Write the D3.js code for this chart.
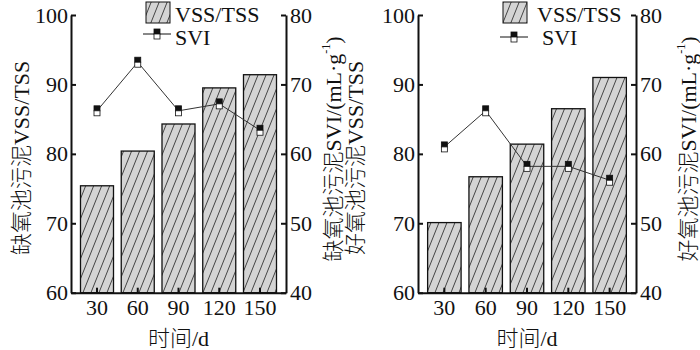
<!DOCTYPE html>
<html>
<head>
<meta charset="utf-8">
<script src="https://cdn.jsdelivr.net/npm/d3@7"></script>
<style>
  body { margin: 0; background: #fff; }
  svg { font-family: "Liberation Serif", "Noto Sans CJK SC", serif; }
  .title { font-weight: 300; }
</style>
</head>
<body>
<div id="chart"></div>
<script>
// data
const days = ['30', '60', '90', '120', '150']
const anoxicVssTss = [75.4, 80.4, 84.3, 89.5, 91.4]
const anoxicSvi = [66.2, 73.2, 66.2, 67.2, 63.4]
const oxicVssTss = [70.1, 76.7, 81.4, 86.5, 91.0]
const oxicSvi = [61.0, 66.2, 58.2, 58.2, 56.2]
const leftTicks = [60, 70, 80, 90, 100]
const rightTicks = [40, 50, 60, 70, 80]

const width = 700
const height = 350
const yTop = 15
const yBottom = 292.7
const fontSize = 22

const svg = d3.select('#chart').append('svg')
  .attr('width', width)
  .attr('height', height)

// hatch pattern for bars
const defs = svg.append('defs')
const pat = defs.append('pattern')
  .attr('id', 'hatch')
  .attr('patternUnits', 'userSpaceOnUse')
  .attr('width', 8)
  .attr('height', 20)
pat.append('rect')
  .attr('width', 8).attr('height', 20)
  .attr('fill', '#d4d4d4')
pat.append('path')
  .attr('d', 'M-1,22.5 L9,-2.5 M-9,22.5 L1,-2.5 M7,22.5 L17,-2.5')
  .attr('stroke', '#333')
  .attr('stroke-width', 0.9)

const marker = (g, cx, cy) => {
  g.append('rect')
    .attr('x', cx - 3).attr('y', cy - 5)
    .attr('width', 6).attr('height', 5)
    .attr('fill', '#111').attr('stroke', '#111').attr('stroke-width', 0.8)
  g.append('rect')
    .attr('x', cx - 3).attr('y', cy)
    .attr('width', 6).attr('height', 5)
    .attr('fill', '#fff').attr('stroke', '#111').attr('stroke-width', 0.8)
}

const drawPanel = ({ x0, x1, bars, svi, leftTitle, rightTitle, leftTitleX, rightTitleX, legend }) => {
  const g = svg.append('g')

  const x = d3.scaleBand()
    .domain(days)
    .range([x0, x1])
    .paddingInner(0.19)
    .paddingOuter(0.233)

  const y = d3.scaleLinear()
    .domain([60, 100])
    .range([yBottom, yTop])

  const y2 = d3.scaleLinear()
    .domain([40, 80])
    .range([yBottom, yTop])

  g.append('g')
    .selectAll('rect')
    .data(bars)
    .join('rect')
    .attr('x', (d, i) => x(days[i]))
    .attr('y', d => y(d))
    .attr('width', x.bandwidth())
    .attr('height', d => y(60) - y(d))
    .attr('fill', 'url(#hatch)')
    .attr('stroke', '#111')
    .attr('stroke-width', 1.3)

  const line = d3.line()
    .x((d, i) => x(days[i]) + x.bandwidth() / 2)
    .y(d => y2(d))

  g.append('path')
    .datum(svi)
    .attr('fill', 'none')
    .attr('stroke', '#333')
    .attr('stroke-width', 1)
    .attr('d', line)

  const mg = g.append('g')
  svi.forEach((d, i) => marker(mg, x(days[i]) + x.bandwidth() / 2, y2(d)))

  const styleAxis = a => {
    a.select('.domain').attr('stroke', '#111').attr('stroke-width', 2)
    a.selectAll('.tick line').attr('stroke', '#111').attr('stroke-width', 2)
    a.selectAll('.tick text')
      .attr('fill', '#111')
      .style('font-size', fontSize + 'px')
      .style('font-family', '"Liberation Serif", serif')
  }

  g.append('g')
    .attr('transform', `translate(${x0},0)`)
    .call(d3.axisLeft(y).tickValues(leftTicks).tickSizeInner(-5).tickSizeOuter(0).tickPadding(3))
    .call(styleAxis)

  g.append('g')
    .attr('transform', `translate(${x1},0)`)
    .call(d3.axisRight(y2).tickValues(rightTicks).tickSizeInner(-5).tickSizeOuter(0).tickPadding(4))
    .call(styleAxis)

  g.append('g')
    .attr('transform', `translate(0,${yBottom})`)
    .call(d3.axisBottom(x).tickSizeInner(-5).tickSizeOuter(0).tickPadding(7))
    .call(styleAxis)

  // axis titles
  g.append('text')
    .attr('class', 'title')
    .attr('transform', `translate(${leftTitleX},${(yTop + yBottom) / 2 + 4}) rotate(-90)`)
    .attr('text-anchor', 'middle')
    .attr('dominant-baseline', 'central')
    .style('font-size', fontSize + 'px')
    .attr('fill', '#111')
    .text(leftTitle)

  const rt = g.append('text')
    .attr('class', 'title')
    .attr('transform', `translate(${rightTitleX},${(yTop + yBottom) / 2 - 5}) rotate(-90)`)
    .attr('text-anchor', 'middle')
    .attr('dominant-baseline', 'central')
    .style('font-size', fontSize + 'px')
    .attr('fill', '#111')
  rt.append('tspan').text(rightTitle)
  rt.append('tspan').attr('dy', -7).style('font-size', '12px').text('-1')
  rt.append('tspan').attr('dy', 7).text(')')

  g.append('text')
    .attr('class', 'title')
    .attr('x', (x0 + x1) / 2)
    .attr('y', 346)
    .attr('text-anchor', 'middle')
    .style('font-size', fontSize + 'px')
    .attr('fill', '#111')
    .text('时间/d')

  // legend
  const lg = g.append('g')
  lg.append('rect')
    .attr('x', legend.rx).attr('y', 2)
    .attr('width', 24).attr('height', 21)
    .attr('fill', 'url(#hatch)')
    .attr('stroke', '#111')
    .attr('stroke-width', 1)
  lg.append('text')
    .attr('x', legend.tx).attr('y', 22)
    .style('font-size', fontSize + 'px')
    .attr('fill', '#111')
    .text('VSS/TSS')
  lg.append('line')
    .attr('x1', legend.lx).attr('x2', legend.lx + 28)
    .attr('y1', legend.ly).attr('y2', legend.ly)
    .attr('stroke', '#111').attr('stroke-width', 1)
  marker(lg, legend.lx + 14, legend.ly)
  lg.append('text')
    .attr('x', legend.sx).attr('y', 45)
    .style('font-size', fontSize + 'px')
    .attr('fill', '#111')
    .text('SVI')
}

drawPanel({
  x0: 71, x1: 286,
  bars: anoxicVssTss, svi: anoxicSvi,
  leftTitle: '缺氧池污泥VSS/TSS',
  rightTitle: '缺氧池污泥SVI/(mL·g',
  leftTitleX: 21, rightTitleX: 333,
  legend: { rx: 146, tx: 175, lx: 143, ly: 34, sx: 175 }
})

drawPanel({
  x0: 418, x1: 636,
  bars: oxicVssTss, svi: oxicSvi,
  leftTitle: '好氧池污泥VSS/TSS',
  rightTitle: '好氧池污泥SVI/(mL·g',
  leftTitleX: 355, rightTitleX: 688,
  legend: { rx: 503, tx: 537, lx: 500, ly: 37, sx: 542 }
})
</script>
</body>
</html>
